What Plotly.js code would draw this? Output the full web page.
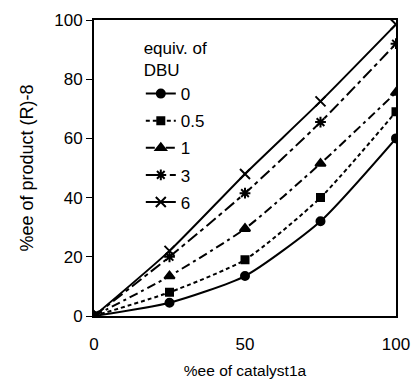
<!DOCTYPE html>
<html>
<head>
<meta charset="utf-8">
<script src="https://cdn.plot.ly/plotly-3.0.1.min.js"></script>
<style>html,body{margin:0;padding:0;background:#fff;}#chart{width:412px;height:379px;}</style>
</head>
<body>
<div id="chart"></div>
<script>
const xCatalyst = [0, 25, 50, 75, 100];
const seriesNames = ["0", "0.5", "1", "3", "6"];
const ee0 = [0, 4.5, 13.5, 32, 60];
const ee05 = [0, 8, 19, 40, 69];
const ee1 = [0, 13.5, 29.5, 51.5, 75.5];
const ee3 = [0, 20, 41.5, 65.5, 92];
const ee6 = [0, 22, 48, 72.5, 98.5];
const yTicks = [0, 20, 40, 60, 80, 100];
const xTicks = [0, 50, 100];

const values = [ee0, ee05, ee1, ee3, ee6];
const dashes = ["solid", "4px,3px", "9px,4px,3px,4px", "12px,4px,4px,4px", "solid"];
const symbols = ["circle", "square", "triangle-up", "asterisk-open", "x-thin-open"];
const sizes = [8, 7, 9, 9, 10];

const traces = values.map((v, i) => ({
  x: xCatalyst, y: v, name: seriesNames[i], type: "scatter", mode: "lines+markers",
  legendgroup: "g" + i,
  line: {color: "#000", width: 2, dash: dashes[i], shape: "spline", smoothing: 0.6},
  marker: {symbol: symbols[i], size: sizes[i], color: "#000", line: {color: "#000", width: 2}}
}));

const font = {family: "Liberation Sans, Arial, sans-serif", color: "#000"};
const layout = {
  width: 412, height: 379,
  margin: {l: 94, r: 16, t: 20, b: 63},
  paper_bgcolor: "#fff", plot_bgcolor: "#fff",
  font: Object.assign({size: 15}, font),
  showlegend: true,
  legend: {
    x: 0.155, y: 0.96, xanchor: "left", yanchor: "top",
    bgcolor: "rgba(0,0,0,0)", borderwidth: 0,
    title: {text: "equiv. of<br>DBU", side: "top center", font: Object.assign({size: 17}, font)},
    font: Object.assign({size: 17}, font),
    tracegroupgap: 2
  },
  xaxis: {
    range: [0, 100], tickvals: xTicks, ticktext: xTicks.map(String),
    showgrid: false, zeroline: false, showline: true, linecolor: "#000", linewidth: 2,
    mirror: true, ticks: "", ticklabelstandoff: 12,
    tickfont: Object.assign({size: 17}, font),
    title: {text: "%ee of catalyst1a", font: Object.assign({size: 15.5}, font), standoff: 12}
  },
  yaxis: {
    range: [0, 100], tickvals: yTicks, ticktext: yTicks.map(String),
    showgrid: false, zeroline: false, showline: true, linecolor: "#000", linewidth: 2,
    mirror: true, ticks: "outside", ticklen: 6, tickwidth: 1, tickcolor: "#000",
    tickfont: Object.assign({size: 17}, font),
    title: {text: "%ee of product (R)-8", font: Object.assign({size: 18}, font), standoff: 16}
  }
};
Plotly.newPlot("chart", traces, layout, {displayModeBar: false, staticPlot: true});
</script>
</body>
</html>
